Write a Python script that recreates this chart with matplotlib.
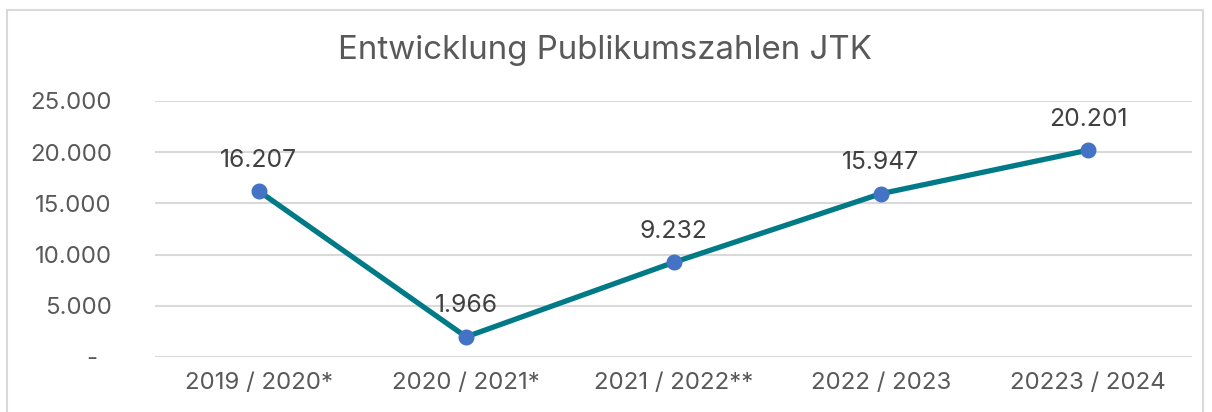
import matplotlib.pyplot as plt
from matplotlib.patches import Rectangle
from matplotlib.ticker import FuncFormatter

plt.rcParams['font.family'] = ['Inter', 'DejaVu Sans']

seasons = ['2019 / 2020*', '2020 / 2021*', '2021 / 2022**', '2022 / 2023', '20223 / 2024']
visitors = [16207, 1966, 9232, 15947, 20201]
y_ticks = [0, 5000, 10000, 15000, 20000, 25000]


def de_format(v, pos=None):
    if v == 0:
        return '-  '
    return f'{int(v):,}'.replace(',', '.')


fig = plt.figure(figsize=(12.12, 4.12), dpi=100)
ax = fig.add_axes([0.1279, 0.1335, 0.8556, 0.6214])

x = range(len(seasons))
ax.plot(x, visitors, color='#007A87', linewidth=3.8, marker='o',
        markersize=10.5, markerfacecolor='#4472C4', markeredgecolor='#4472C4', zorder=3)

for i, v in enumerate(visitors):
    ax.annotate(de_format(v), (i, v), xytext=(0, 14), textcoords='offset points',
                ha='center', va='bottom', fontsize=17.8, color='#404040')

ax.set_xlim(-0.5, len(seasons) - 0.5)
ax.set_ylim(0, 25000)
ax.set_yticks(y_ticks)
ax.yaxis.set_major_formatter(FuncFormatter(de_format))
ax.set_xticks(list(x))
ax.set_xticklabels(seasons)
ax.grid(axis='y', color='#D9D9D9', linewidth=1.5)
ax.set_axisbelow(True)
for s in ax.spines.values():
    s.set_visible(False)
ax.tick_params(length=0, labelsize=17.3, labelcolor='#595959')
ax.tick_params(axis='y', pad=31)
ax.tick_params(axis='x', pad=11)

fig.text(0.4995, 0.878, 'Entwicklung Publikumszahlen JTK', ha='center', va='center',
         fontsize=23.8, color='#595959')

fig.patches.append(Rectangle((7 / 1212, -0.1), 1196 / 1212, 1.1 - 10 / 412,
                             transform=fig.transFigure, fill=False,
                             edgecolor='#D9D9D9', linewidth=1.5))

fig.savefig('out.png', dpi=100, facecolor='white')
